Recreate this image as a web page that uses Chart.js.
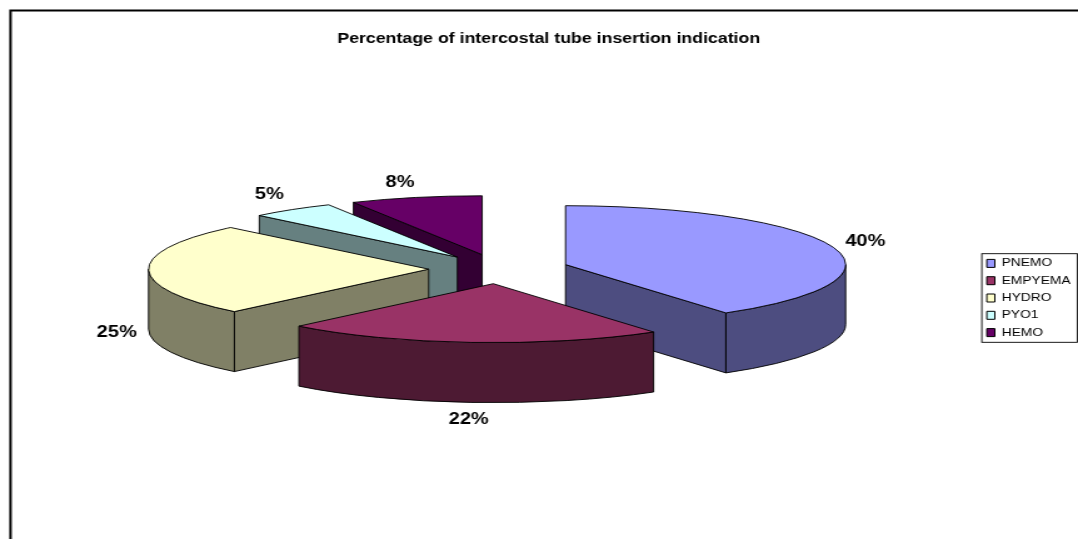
<!DOCTYPE html>
<html>
<head>
<meta charset="utf-8">
<style>
html,body{margin:0;padding:0;background:#fff;overflow:hidden}
canvas{display:block}
</style>
<script src="https://cdn.jsdelivr.net/npm/chart.js@4"></script>
</head>
<body>
<canvas id="c" width="862" height="539"></canvas>
<script>
const categories = ["PNEMO", "EMPYEMA", "HYDRO", "PYO1", "HEMO"];
const values = [40.3, 21.9, 25.3, 4.9, 7.6];
const topColors = ["#9999FF", "#993366", "#FFFFCC", "#CCFFFF", "#660066"];
const wallColors = ["#4D4D80", "#4D1A33", "#808066", "#668080", "#330033"];
const chartTitle = "Percentage of intercostal tube insertion indication";
const paintOrder = [4, 3, 0, 2, 1];

const TILT = 0.263, DEPTH = 60, RADIUS = 224, EXPLODE = 56;
const labelNudgeX = [3.2, -0.2, -1.5, -4, -7];
const labelNudgeY = [0.5, -2, 3, 0.5, 3.5];

const pie3d = {
  id: "pie3d",
  afterLayout(chart) {
    const lg = chart.legend;
    lg.left += 4; lg.right += 4;
    lg.top += 28.5; lg.bottom += 28.5;
    chart.titleBlock.left -= 3.2;
  },
  beforeDraw(chart) {
    const c = chart.ctx;
    c.save();
    c.fillStyle = "#fff";
    c.fillRect(0, 0, chart.width, chart.height);
    c.strokeStyle = "#000";
    c.lineWidth = 2;
    c.beginPath();
    c.moveTo(chart.width, 10.5);
    c.lineTo(8.4, 10.5);
    c.lineTo(8.4, chart.height);
    c.stroke();
    c.restore();
  },
  beforeDatasetDraw(chart, args) {
    const c = chart.ctx, arcs = chart.getDatasetMeta(args.index).data;
    c.save();
    c.lineWidth = 0.9;
    c.strokeStyle = "#000";
    c.lineJoin = "round";
    paintOrder.forEach(i => {
      const a = arcs[i], s = a.startAngle, e = a.endAngle, r = a.outerRadius;
      const mid = (s + e) / 2;
      const ax = a.x + EXPLODE * Math.cos(mid);
      const ay = a.y - DEPTH / 2 + EXPLODE * TILT * Math.sin(mid);
      const ry = r * TILT;
      const face = ang => {
        const px = ax + r * Math.cos(ang), py = ay + ry * Math.sin(ang);
        c.beginPath();
        c.moveTo(ax, ay);
        c.lineTo(px, py);
        c.lineTo(px, py + DEPTH);
        c.lineTo(ax, ay + DEPTH);
        c.closePath();
        c.fillStyle = wallColors[i];
        c.fill();
        c.stroke();
      };
      if (Math.cos(s) < -1e-6) face(s);
      if (Math.cos(e) > 1e-6) face(e);
      const lo = Math.max(s, 0), hi = Math.min(e, Math.PI);
      if (hi > lo) {
        c.beginPath();
        c.ellipse(ax, ay, r, ry, 0, lo, hi);
        c.ellipse(ax, ay + DEPTH, r, ry, 0, hi, lo, true);
        c.closePath();
        c.fillStyle = wallColors[i];
        c.fill();
        c.stroke();
      }
      c.beginPath();
      c.moveTo(ax, ay);
      c.ellipse(ax, ay, r, ry, 0, s, e);
      c.closePath();
      c.fillStyle = topColors[i];
      c.fill();
      c.stroke();
    });
    c.fillStyle = "#000";
    c.font = "bold 16px 'Liberation Sans', Arial, sans-serif";
    c.textAlign = "center";
    c.textBaseline = "middle";
    arcs.forEach((a, i) => {
      const mid = (a.startAngle + a.endAngle) / 2, r = a.outerRadius;
      const ax = a.x + EXPLODE * Math.cos(mid);
      const ay = a.y - DEPTH / 2 + EXPLODE * TILT * Math.sin(mid);
      const lx = ax + r * 1.107 * Math.cos(mid) + labelNudgeX[i];
      const ly = ay + r * TILT * 1.32 * Math.sin(mid) + (Math.sin(mid) > 0 ? DEPTH : 0) + labelNudgeY[i];
      c.fillText(Math.round(values[i]) + "%", lx, ly);
    });
    c.restore();
    return false;
  },
  afterDraw(chart) {
    const c = chart.ctx, boxes = chart.legend.legendHitBoxes;
    const first = boxes[0], last = boxes[boxes.length - 1];
    c.save();
    c.strokeStyle = "#000";
    c.lineWidth = 0.9;
    c.strokeRect(first.left - 4, first.top - 4.2, chart.width - 0.6 - (first.left - 4), last.top + last.height + 4.2 - (first.top - 4.2));
    c.restore();
  }
};

const canvas = document.getElementById("c");
new Chart(canvas, {
  type: "pie",
  data: {
    labels: categories,
    datasets: [{
      data: values,
      backgroundColor: topColors,
      borderColor: "#000",
      borderWidth: 1,
      radius: RADIUS
    }]
  },
  plugins: [pie3d],
  options: {
    responsive: false,
    animation: false,
    radius: RADIUS,
    layout: { padding: { left: 18.8 } },
    plugins: {
      tooltip: { enabled: false },
      title: {
        display: true,
        text: chartTitle,
        color: "#000",
        font: { family: "'Liberation Sans', Arial, sans-serif", size: 14.2, weight: "bold" },
        padding: { top: 31, bottom: 11 }
      },
      legend: {
        position: "right",
        labels: {
          boxWidth: 6.4,
          boxHeight: 8,
          padding: 6.3,
          color: "#000",
          font: { family: "'Liberation Sans', Arial, sans-serif", size: 11 }
        }
      }
    }
  }
});
canvas.style.width = "1078px";
canvas.style.height = "539px";
</script>
</body>
</html>
